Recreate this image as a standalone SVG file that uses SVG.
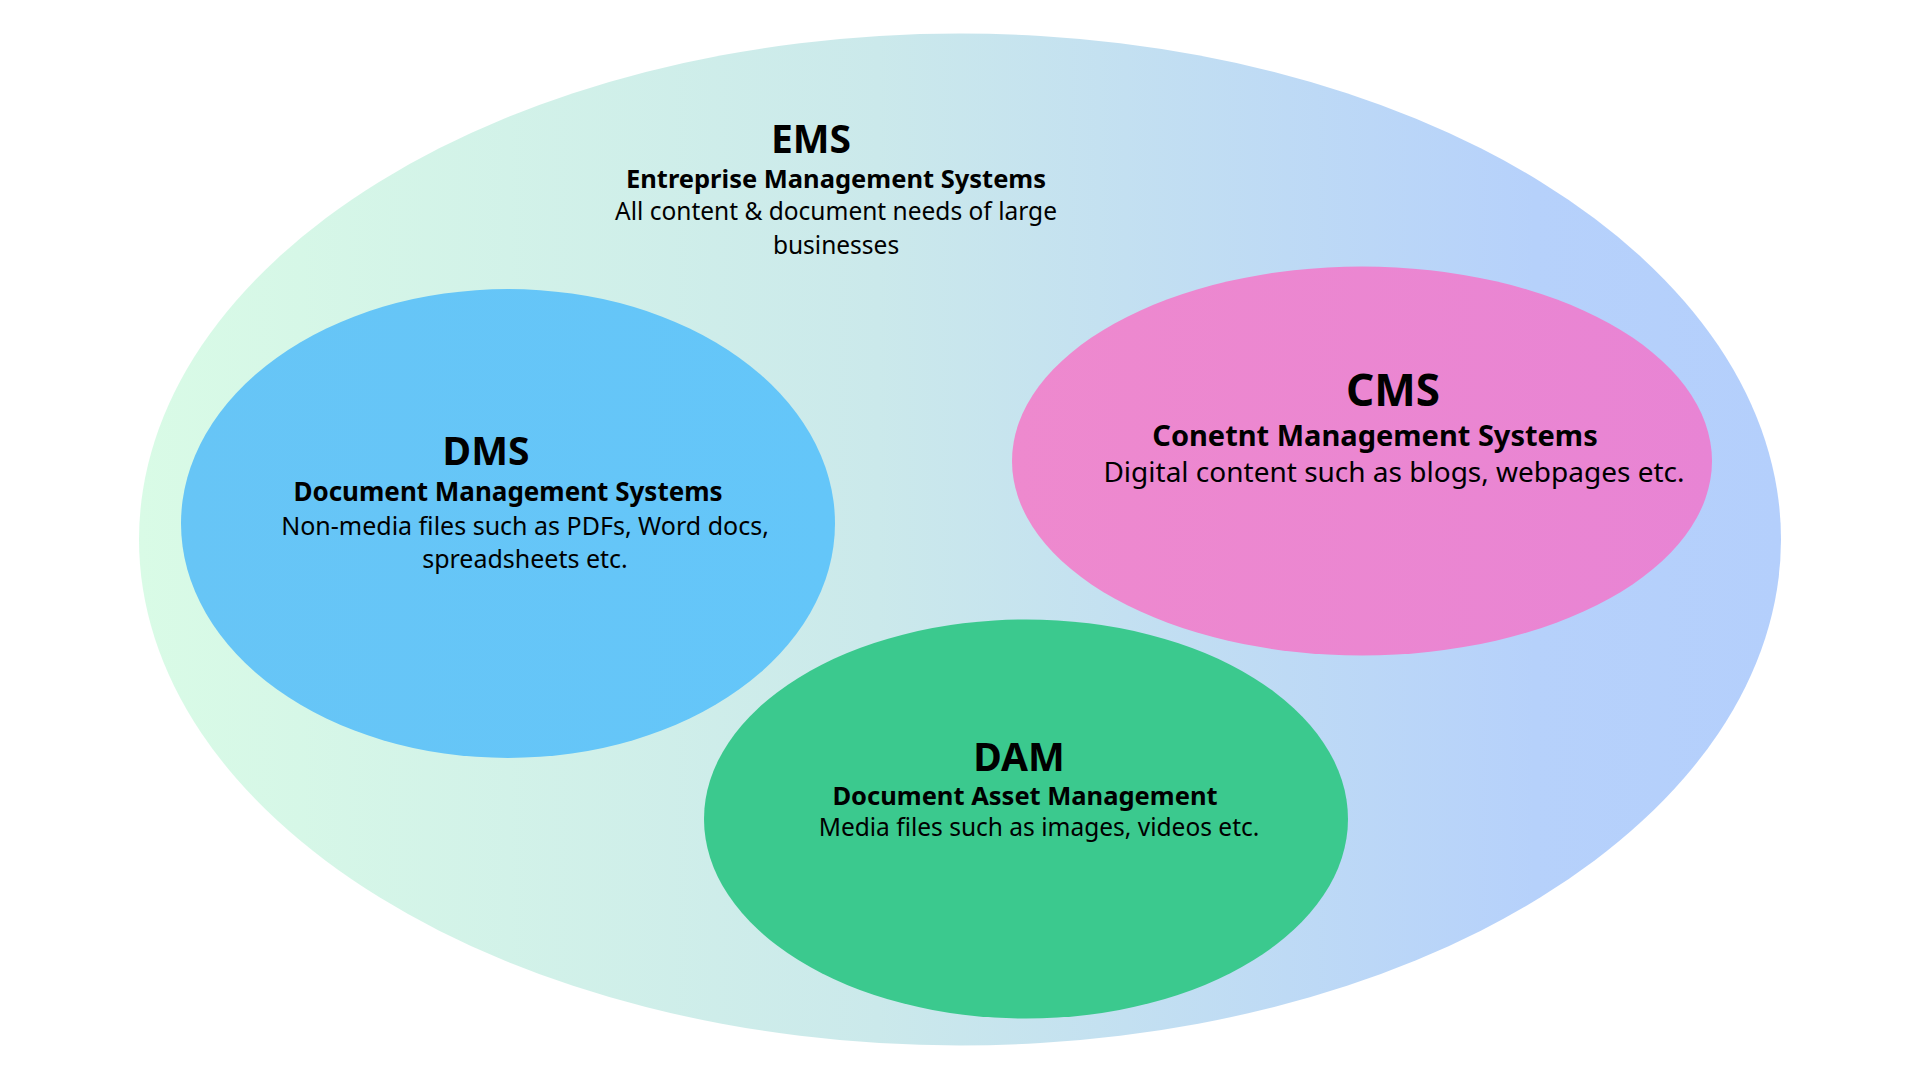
<svg xmlns="http://www.w3.org/2000/svg" width="1920" height="1080" viewBox="0 0 1920 1080">
<defs>
<linearGradient id="gOuter" x1="138" y1="0" x2="1782" y2="0" gradientUnits="userSpaceOnUse">
<stop offset="0" stop-color="#d9fbe6"/>
<stop offset="0.45" stop-color="#cbe9eb"/>
<stop offset="0.85" stop-color="#b6d1fb"/>
<stop offset="1" stop-color="#b4cffc"/>
</linearGradient>
<linearGradient id="gCms" x1="1013" y1="0" x2="1712" y2="0" gradientUnits="userSpaceOnUse">
<stop offset="0" stop-color="#ee89ce"/>
<stop offset="1" stop-color="#e884d4"/>
</linearGradient>
<linearGradient id="gDms" x1="180" y1="0" x2="836" y2="0" gradientUnits="userSpaceOnUse">
<stop offset="0" stop-color="#67c5f6"/>
<stop offset="1" stop-color="#64c6f9"/>
</linearGradient>
</defs>
<style>
.t{font-family:"Noto Sans","Open Sans",sans-serif;font-weight:700;fill:#000;text-anchor:middle}
.s{font-family:"Noto Sans","Open Sans",sans-serif;font-weight:700;fill:#000;text-anchor:middle}
.b{font-family:"Noto Sans","Open Sans",sans-serif;font-weight:400;fill:#000;text-anchor:middle}
</style>
<rect width="1920" height="1080" fill="#ffffff"/>
<g id="ems">
<ellipse cx="960" cy="539.5" rx="821" ry="506" fill="url(#gOuter)"/>
<text class="t" x="811" y="153" font-size="39">EMS</text>
<text class="s" x="836" y="188" font-size="25.5">Entreprise Management Systems</text>
<text class="b" x="836" y="220" font-size="24.5">All content &amp; document needs of large</text>
<text class="b" x="836" y="254" font-size="24.5">businesses</text>
</g>
<g id="dms">
<ellipse cx="508" cy="523.5" rx="327" ry="234.5" fill="url(#gDms)"/>
<text class="t" x="486" y="465" font-size="39">DMS</text>
<text class="s" x="508" y="501" font-size="26">Document Management Systems</text>
<text class="b" x="525" y="535" font-size="25">Non-media files such as PDFs, Word docs,</text>
<text class="b" x="525" y="568" font-size="25">spreadsheets etc.</text>
</g>
<g id="cms">
<ellipse cx="1362" cy="461" rx="350" ry="194.5" fill="url(#gCms)"/>
<text class="t" x="1393" y="406" font-size="44">CMS</text>
<text class="s" x="1375" y="446" font-size="29">Conetnt Management Systems</text>
<text class="b" x="1394" y="482" font-size="28">Digital content such as blogs, webpages etc.</text>
</g>
<g id="dam">
<ellipse cx="1026" cy="819" rx="322" ry="199.5" fill="#3bc98e"/>
<text class="t" x="1019" y="771" font-size="39">DAM</text>
<text class="s" x="1025" y="805" font-size="25.5">Document Asset Management</text>
<text class="b" x="1039" y="836" font-size="24.5">Media files such as images, videos etc.</text>
</g>
<g id="connectors"/>
</svg>
